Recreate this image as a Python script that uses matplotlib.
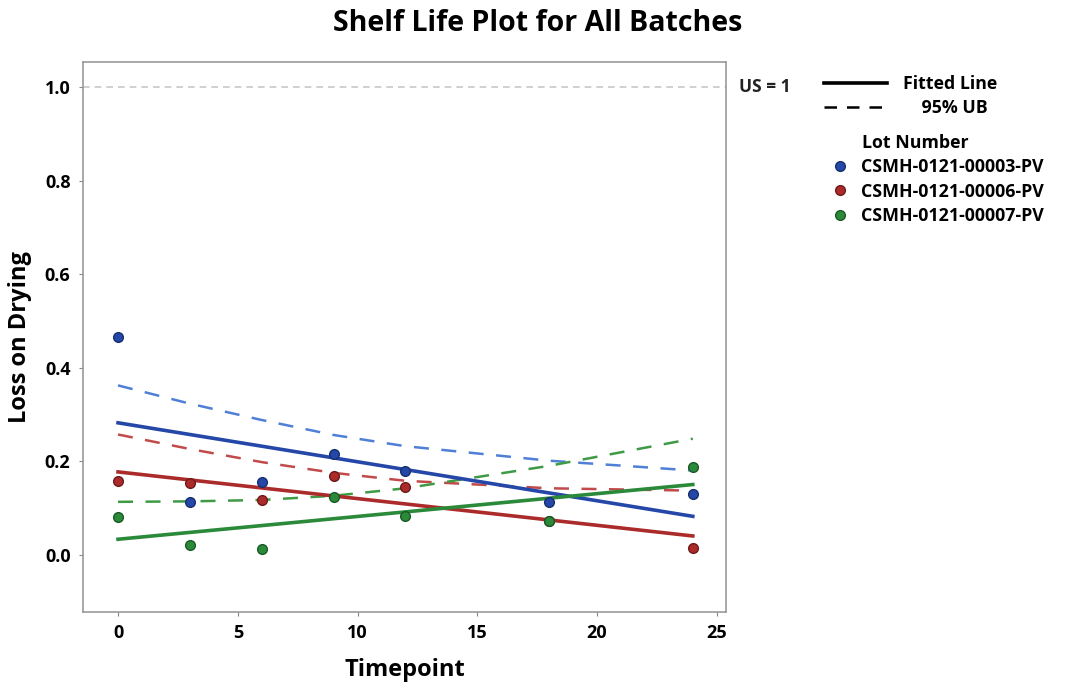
import numpy as np
import matplotlib.pyplot as plt
from matplotlib.lines import Line2D

plt.rcParams['font.family'] = ['Open Sans', 'DejaVu Sans']

# ------------ DATA ------------
timepoints = [0, 3, 6, 9, 12, 18, 24]
lots = ["CSMH-0121-00003-PV", "CSMH-0121-00006-PV", "CSMH-0121-00007-PV"]

lod_00003 = [0.466, 0.112, 0.156, 0.215, 0.180, 0.113, 0.130]
lod_00006 = [0.158, 0.154, 0.116, 0.169, 0.145, 0.073, 0.015]
lod_00007 = [0.081, 0.021, 0.013, 0.124, 0.083, 0.072, 0.188]

# fitted line values at first / last timepoint
fit_00003 = [0.282, 0.082]
fit_00006 = [0.177, 0.040]
fit_00007 = [0.033, 0.150]

# 95% upper bound, read at each timepoint
ub_00003 = [0.362, 0.323, 0.288, 0.256, 0.232, 0.201, 0.180]
ub_00006 = [0.257, 0.226, 0.198, 0.175, 0.158, 0.142, 0.137]
ub_00007 = [0.113, 0.114, 0.117, 0.126, 0.142, 0.190, 0.248]

spec_limit = 1.0

point_colors = ["#2447a8", "#ab2b2b", "#2a8a3a"]
edge_colors = ["#16306e", "#6e1a1a", "#1a5a25"]
ub_colors = ["#4f7fd6", "#c24a4a", "#3f9a45"]

# ------------ PLOT ------------
fig = plt.figure(figsize=(10.65, 6.92), dpi=100)
ax = fig.add_axes([0.078, 0.116, 0.604, 0.794])

series = [lod_00003, lod_00006, lod_00007]
fits = [fit_00003, fit_00006, fit_00007]
ubs = [ub_00003, ub_00006, ub_00007]
t_ends = [timepoints[0], timepoints[-1]]

for i in range(3):
    ax.plot(timepoints, ubs[i], color=ub_colors[i], linestyle=(0, (6, 5)), linewidth=1.8, zorder=2)
for i in range(3):
    ax.plot(t_ends, fits[i], color=point_colors[i], linewidth=2.6, zorder=3)
for i in range(3):
    ax.plot(timepoints, series[i], "o", color=point_colors[i], markeredgecolor=edge_colors[i],
            markersize=7, zorder=4)

ax.axhline(spec_limit, color="#c8c8c8", linestyle=(0, (4, 3)), linewidth=1.2, zorder=1)
ax.text(1.02, spec_limit, "US = 1", transform=ax.get_yaxis_transform(), va="center", ha="left",
        fontsize=12.5, fontweight="bold", color="#222222")

ax.set_xlim(-1.46, 25.4)
ax.set_ylim(-0.122, 1.053)
ax.set_xticks([0, 5, 10, 15, 20, 25])
ax.set_yticks([0.0, 0.2, 0.4, 0.6, 0.8, 1.0])
ax.set_yticklabels(["0.0", "0.2", "0.4", "0.6", "0.8", "1.0"])
for lbl in ax.get_xticklabels() + ax.get_yticklabels():
    lbl.set_fontweight("bold")
    lbl.set_fontsize(13)
ax.tick_params(length=3, color="#888888", pad=6)
for sp in ax.spines.values():
    sp.set_color("#999999")
    sp.set_linewidth(1.2)

ax.set_xlabel("Timepoint", fontsize=17, fontweight="bold", labelpad=11)
ax.set_ylabel("Loss on Drying", fontsize=17, fontweight="bold", labelpad=9)
fig.suptitle("Shelf Life Plot for All Batches", fontsize=20.5, fontweight="bold", x=0.505, y=0.987)

# legend: line types
line_handles = [Line2D([], [], color="black", linewidth=2.6),
                Line2D([], [], color="black", linestyle=(0, (5, 4)), linewidth=1.8)]
fig.legend(line_handles, ["Fitted Line", "    95% UB"], loc="upper left",
           bbox_to_anchor=(0.759, 0.915), frameon=False, handlelength=3.5, handletextpad=0.9,
           prop={"weight": "bold", "size": 12.8}, labelspacing=0.35)

# legend: lots
fig.text(0.809, 0.793, "Lot Number", fontsize=12.8, fontweight="bold", va="center", ha="left")
lot_handles = [Line2D([], [], marker="o", linestyle="", color=point_colors[i],
                      markeredgecolor=edge_colors[i], markersize=7) for i in range(3)]
fig.legend(lot_handles, lots, loc="upper left", bbox_to_anchor=(0.765, 0.795), frameon=False,
           handlelength=1.0, handletextpad=0.7, prop={"weight": "bold", "size": 12.8}, labelspacing=0.38)

plt.savefig("out.png", dpi=100)
